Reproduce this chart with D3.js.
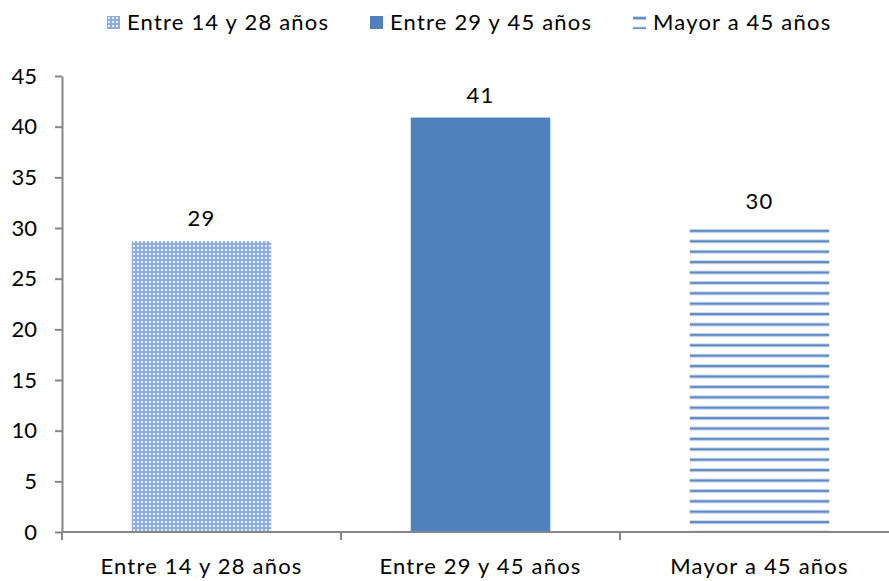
<!DOCTYPE html>
<html>
<head>
<meta charset="utf-8">
<script src="https://cdn.jsdelivr.net/npm/d3@7"></script>
<style>
  body { margin: 0; background: #fff; }
  text { font-family: Lato, "Open Sans", sans-serif; fill: #000; }
</style>
</head>
<body>
<div class="canvas"></div>
<script>
const categories = ['Entre 14 y 28 años', 'Entre 29 y 45 años', 'Mayor a 45 años']
const values = [28.7, 40.9, 30.4]
const labels = ['29', '41', '30']
const yTicks = [0, 5, 10, 15, 20, 25, 30, 35, 40, 45]

const dims = {width: 889, height: 581}
const margin = {left: 62, top: 76, bottom: 49}
const fontSize = '22px'
const spacing = '1.2px'

const svg = d3.select('.canvas').append('svg')
    .attr('width', dims.width)
    .attr('height', dims.height)

const x = d3.scaleBand()
    .domain(categories)
    .range([margin.left, margin.left + 837])
    .paddingInner(0.5).paddingOuter(0.25)

const y = d3.scaleLinear()
    .domain([0, 45])
    .range([dims.height - margin.bottom, margin.top])

const defs = svg.append('defs')

// small checker pattern
const chk = defs.append('pattern')
    .attr('id', 'chk').attr('patternUnits', 'userSpaceOnUse')
    .attr('width', 4).attr('height', 4)
chk.append('rect').attr('width', 4).attr('height', 4).attr('fill', '#8dade0')
chk.append('rect').attr('x', 1).attr('y', 1).attr('width', 2).attr('height', 2).attr('fill', '#e6eef9')

// horizontal stripes, first line a little below the top of the bar
const stripe = defs.append('pattern')
    .attr('id', 'stripe').attr('patternUnits', 'userSpaceOnUse')
    .attr('y', y(values[2]) + 5)
    .attr('width', 8).attr('height', 10.4)
stripe.append('rect').attr('width', 8).attr('height', 10.4).attr('fill', '#fff')
stripe.append('rect').attr('y', 0).attr('width', 8).attr('height', 4).attr('fill', '#c6d5ec')
stripe.append('rect').attr('y', 1).attr('width', 8).attr('height', 2).attr('fill', '#5c89c3')

const fills = ['url(#chk)', '#4f81bd', 'url(#stripe)']

// bars
svg.append('g').selectAll('rect')
    .data(values)
    .enter().append('rect')
    .attr('x', (d, i) => x(categories[i]))
    .attr('y', d => y(d))
    .attr('width', x.bandwidth())
    .attr('height', d => y(0) - y(d))
    .attr('fill', (d, i) => fills[i])

// value labels
svg.append('g').selectAll('text')
    .data(values)
    .enter().append('text')
    .attr('x', (d, i) => x(categories[i]) + x.bandwidth() / 2)
    .attr('y', d => y(d) - 15)
    .attr('text-anchor', 'middle')
    .style('font-size', fontSize)
    .style('letter-spacing', spacing)
    .text((d, i) => labels[i])

// y axis
const yAxis = svg.append('g')
    .attr('transform', `translate(${margin.left},0)`)
    .call(d3.axisLeft(y).tickValues(yTicks).tickSize(7).tickSizeOuter(0).tickPadding(18))
yAxis.select('.domain').attr('stroke', '#868686').attr('stroke-width', 2)
yAxis.selectAll('.tick line').attr('stroke', '#868686').attr('stroke-width', 2)
yAxis.selectAll('.tick text')
    .style('font-size', fontSize)
    .style('font-family', 'Lato, sans-serif')
    .attr('fill', '#000')

// x axis
const step = x.step()
const bounds = d3.range(4).map(i => margin.left + i * step)
svg.append('line')
    .attr('x1', margin.left).attr('x2', dims.width)
    .attr('y1', y(0)).attr('y2', y(0))
    .attr('stroke', '#868686').attr('stroke-width', 2)
svg.append('g').selectAll('line')
    .data(bounds)
    .enter().append('line')
    .attr('x1', d => d).attr('x2', d => d)
    .attr('y1', y(0)).attr('y2', y(0) + 8)
    .attr('stroke', '#868686').attr('stroke-width', 2)

svg.append('g').selectAll('text')
    .data(categories)
    .enter().append('text')
    .attr('x', d => x(d) + x.bandwidth() / 2)
    .attr('y', 574)
    .attr('text-anchor', 'middle')
    .style('font-size', fontSize)
    .style('letter-spacing', spacing)
    .text(d => d)

// legend
const legendX = [107, 370, 633]
const legend = svg.append('g').selectAll('g')
    .data(categories)
    .enter().append('g')
    .attr('transform', (d, i) => `translate(${legendX[i]}, 16)`)
legend.append('rect')
    .attr('width', 13).attr('height', 13)
    .attr('fill', (d, i) => fills[i])
legend.append('text')
    .attr('x', 20).attr('y', 14)
    .style('font-size', fontSize)
    .style('letter-spacing', spacing)
    .text(d => d)
</script>
</body>
</html>
